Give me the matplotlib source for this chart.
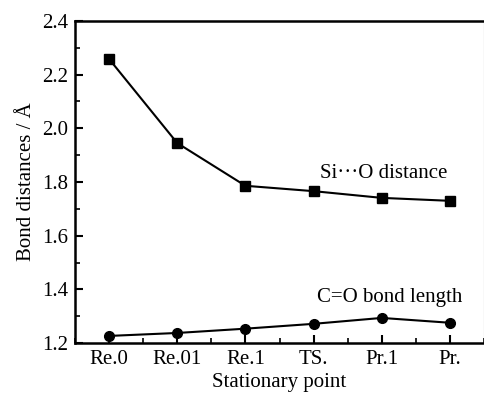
import matplotlib
matplotlib.use("Agg")
import matplotlib.pyplot as plt
from matplotlib.ticker import MultipleLocator

points = ["Re.0", "Re.01", "Re.1", "TS.", "Pr.1", "Pr."]
si_o = [2.258, 1.945, 1.786, 1.766, 1.741, 1.730]
c_o = [1.227, 1.238, 1.254, 1.272, 1.294, 1.276]

plt.rcParams["font.family"] = "Liberation Serif"
plt.rcParams["font.size"] = 15

fig = plt.figure(figsize=(4.84, 3.94), dpi=100)
ax = fig.add_axes([0.155, 0.129, 0.845, 0.818])

x = range(len(points))
ax.plot(x, si_o, color="black", lw=1.5, marker="s", ms=7)
ax.plot(x, c_o, color="black", lw=1.5, marker="o", ms=7)

ax.set_xlim(-0.5, 5.5)
ax.set_ylim(1.2, 2.4)
ax.set_xticks(list(x))
ax.set_xticklabels(points)
ax.xaxis.set_minor_locator(MultipleLocator(0.5))
ax.yaxis.set_major_locator(MultipleLocator(0.2))
ax.yaxis.set_minor_locator(MultipleLocator(0.1))
ax.yaxis.set_major_formatter(matplotlib.ticker.FormatStrFormatter("%.1f"))
ax.tick_params(which="both", direction="in", top=False, right=False)
ax.tick_params(which="major", length=6, width=1.5, pad=5)
ax.tick_params(which="minor", length=3.5, width=1.2)

for s in ["left", "bottom", "top"]:
    ax.spines[s].set_linewidth(1.8)
ax.spines["right"].set_linewidth(0.8)
ax.spines["right"].set_color("gray")

ax.set_xlabel("Stationary point", labelpad=3)
ax.set_ylabel("Bond distances / Å", labelpad=4)

ax.text(3.1, 1.83, "Si···O distance", ha="left", va="center")
ax.text(3.05, 1.37, "C=O bond length", ha="left", va="center")

plt.savefig("out.png", dpi=100)
